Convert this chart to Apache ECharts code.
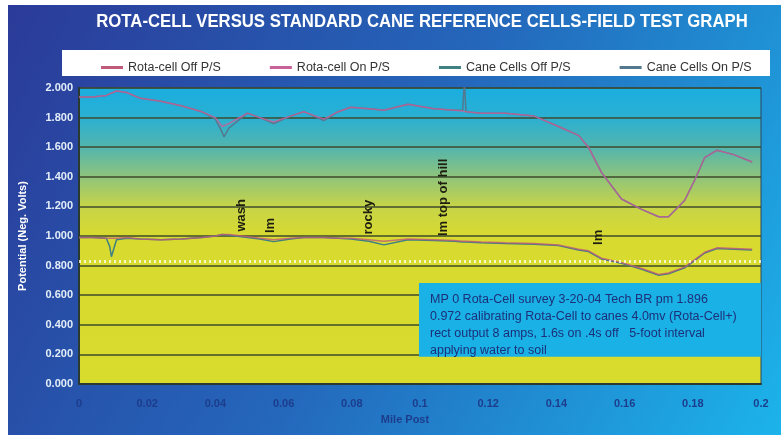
<!DOCTYPE html>
<html>
<head>
<meta charset="utf-8">
<script src="https://cdn.jsdelivr.net/npm/echarts@6/dist/echarts.min.js"></script>
<style>
  html, body { margin: 0; padding: 0; background: #ffffff; }
  #plot { width: 781px; height: 435px; }
</style>
</head>
<body>
<div id="plot"></div>
<script>
// mile post readings (shared by all four traces)
var miles = [0, 0.004, 0.008, 0.009, 0.0095, 0.011, 0.014, 0.018, 0.024, 0.03, 0.036, 0.04, 0.042, 0.0425, 0.044,
  0.0494, 0.053, 0.0571, 0.062, 0.0659, 0.0718, 0.076, 0.0797, 0.085, 0.0894, 0.0965, 0.1041, 0.11, 0.1125, 0.113,
  0.1135, 0.118, 0.125, 0.1335, 0.1406, 0.1465, 0.1494, 0.1532, 0.1591, 0.165, 0.17, 0.1729, 0.1776, 0.1806, 0.1835,
  0.1871, 0.192, 0.1974];

var rotaOff = [0.99, 0.99, 0.985, 0.985, 0.985, 0.985, 0.99, 0.98, 0.975, 0.98, 0.99, 1.0, 1.01, 1.01, 1.01,
  0.995, 0.985, 0.975, 0.985, 0.99, 0.99, 0.985, 0.985, 0.975, 0.965, 0.98, 0.975, 0.97, 0.965, 0.965,
  0.965, 0.96, 0.955, 0.95, 0.94, 0.91, 0.9, 0.85, 0.82, 0.78, 0.74, 0.75, 0.79, 0.84, 0.89,
  0.92, 0.915, 0.91];
var rotaOn = [1.94, 1.94, 1.95, 1.96, 1.965, 1.98, 1.97, 1.93, 1.91, 1.88, 1.84, 1.8, 1.74, 1.73, 1.76,
  1.83, 1.8, 1.77, 1.81, 1.84, 1.79, 1.84, 1.87, 1.86, 1.85, 1.89, 1.86, 1.85, 1.845, 1.845,
  1.84, 1.83, 1.83, 1.81, 1.74, 1.68, 1.6, 1.43, 1.25, 1.18, 1.13, 1.13, 1.24, 1.38, 1.53,
  1.58, 1.55, 1.5];
var caneOff = [0.99, 0.99, 0.985, 0.93, 0.86, 0.975, 0.985, 0.98, 0.975, 0.98, 0.99, 1.0, 1.01, 1.01, 1.005,
  0.99, 0.98, 0.962, 0.98, 0.99, 0.99, 0.985, 0.98, 0.965, 0.94, 0.975, 0.97, 0.965, 0.96, 0.96,
  0.96, 0.955, 0.95, 0.945, 0.935, 0.905, 0.895, 0.845, 0.815, 0.775, 0.735, 0.745, 0.785, 0.835, 0.885,
  0.915, 0.91, 0.905];
var caneOn = [1.94, 1.94, 1.95, 1.96, 1.965, 1.98, 1.97, 1.93, 1.91, 1.88, 1.84, 1.79, 1.7, 1.67, 1.73,
  1.83, 1.8, 1.76, 1.81, 1.84, 1.78, 1.84, 1.87, 1.86, 1.85, 1.89, 1.86, 1.85, 1.85, 2.04,
  1.84, 1.83, 1.83, 1.81, 1.74, 1.68, 1.6, 1.43, 1.25, 1.18, 1.13, 1.13, 1.24, 1.38, 1.53,
  1.58, 1.55, 1.5];

var seriesNames = ['Rota-cell Off P/S', 'Rota-cell On P/S', 'Cane Cells Off P/S', 'Cane Cells On P/S'];
var seriesColors = ['#c05a78', '#c8609a', '#3f8082', '#54788e'];

// field notes written along the lower trace
var noteText = ['wash', 'lm', 'rocky', 'lm top of hill', 'lm'];
var noteMile = [0.0476, 0.0562, 0.085, 0.1068, 0.1524];
var noteValue = [1.03, 1.02, 1.01, 1.0, 0.94];

var boxLines = [
  'MP 0 Rota-Cell survey 3-20-04 Tech BR pm 1.896',
  '0.972 calibrating Rota-Cell to canes 4.0mv (Rota-Cell+)',
  'rect output 8 amps, 1.6s on .4s off   5-foot interval',
  'applying water to soil'
];

var chartTitle = 'ROTA-CELL VERSUS STANDARD CANE REFERENCE CELLS-FIELD TEST GRAPH';

function pairs(vals) {
  return miles.map(function (m, i) { return [m, vals[i]]; });
}

var myChart = echarts.init(document.getElementById('plot'));
var sans = '"Liberation Sans", Arial, sans-serif';

var option = {
  animation: false,
  backgroundColor: '#ffffff',
  legend: {
    data: seriesNames,
    left: 96,
    top: 56,
    itemGap: 49,
    itemWidth: 22,
    itemHeight: 3,
    icon: 'rect',
    textStyle: { color: '#333333', fontFamily: sans, fontSize: 12.5 }
  },
  grid: {
    left: 79, right: 20, top: 88, bottom: 51,
    show: true,
    borderWidth: 1,
    borderColor: '#2c4660',
    backgroundColor: new echarts.graphic.LinearGradient(0, 0, 0, 1, [
      { offset: 0, color: '#1aaee0' },
      { offset: 0.1, color: '#2ab0d2' },
      { offset: 0.2, color: '#52b5ae' },
      { offset: 0.3, color: '#8ec47c' },
      { offset: 0.4, color: '#c6d448' },
      { offset: 0.5, color: '#d8da30' },
      { offset: 1, color: '#d8dc2c' }
    ])
  },
  xAxis: {
    type: 'value',
    min: 0, max: 0.2, interval: 0.02,
    name: 'Mile Post',
    nameLocation: 'middle',
    nameGap: 30,
    nameTextStyle: { color: '#1d3d8c', fontFamily: sans, fontWeight: 'bold', fontSize: 11, padding: [0, 30, 0, 0] },
    axisLine: { show: true, lineStyle: { color: '#2a3a30', width: 2 } },
    axisTick: { show: false },
    splitLine: { show: false },
    axisLabel: {
      margin: 14, color: '#1d3d8c', fontWeight: 'bold', fontSize: 11, fontFamily: sans,
      formatter: function (v) { return v === 0 ? '0' : String(+v.toFixed(2)); }
    }
  },
  yAxis: {
    type: 'value',
    min: 0, max: 2, interval: 0.2,
    name: 'Potential (Neg. Volts)',
    nameLocation: 'middle',
    nameGap: 51,
    nameTextStyle: { color: '#ffffff', fontFamily: sans, fontWeight: 'bold', fontSize: 11 },
    axisLine: { show: true, lineStyle: { color: '#2a3a30', width: 2 } },
    axisTick: { show: false },
    splitLine: { lineStyle: { color: '#3e4b2c', width: 1.5 } },
    axisLabel: {
      margin: 6, color: '#e4eef8', fontWeight: 'bold', fontSize: 11, fontFamily: sans,
      formatter: function (v) { return v.toFixed(3); }
    }
  },
  series: [
    {
      name: seriesNames[2], type: 'line', data: pairs(caneOff), showSymbol: false, z: 2,
      lineStyle: { color: seriesColors[2], width: 1.5 }, itemStyle: { color: seriesColors[2] },
      markLine: {
        silent: true, symbol: 'none', label: { show: false },
        lineStyle: { color: 'rgba(255,255,255,0.75)', type: [2, 3], width: 3 },
        data: [{ yAxis: 0.83 }]
      },
      markArea: {
        silent: true,
        itemStyle: { color: '#1ab2e6' },
        label: {
          show: true, position: 'insideTopLeft',
          padding: [3, 0, 0, 6],
          color: '#1c2f78', fontFamily: sans, fontSize: 12.5, lineHeight: 17
        },
        data: [[{ name: boxLines.join('\n'), coord: [0.0997, 0.683] }, { coord: [0.2, 0.184] }]]
      }
    },
    {
      name: seriesNames[3], type: 'line', data: pairs(caneOn), showSymbol: false, z: 2,
      lineStyle: { color: seriesColors[3], width: 1.5 }, itemStyle: { color: seriesColors[3] }
    },
    {
      name: seriesNames[0], type: 'line', data: pairs(rotaOff), showSymbol: false, z: 3,
      lineStyle: { color: seriesColors[0], width: 1.5, opacity: 0.8 }, itemStyle: { color: seriesColors[0] }
    },
    {
      name: seriesNames[1], type: 'line', data: pairs(rotaOn), showSymbol: false, z: 3,
      lineStyle: { color: seriesColors[1], width: 1.5, opacity: 0.8 }, itemStyle: { color: seriesColors[1] }
    }
  ],
  graphic: [
    {
      type: 'rect', z: -10, silent: true,
      shape: { x: 8, y: 5, width: 773, height: 430 },
      style: {
        fill: new echarts.graphic.LinearGradient(0, 0, 1, 1, [
          { offset: 0, color: '#2b3a98' },
          { offset: 0.5, color: '#2468bc' },
          { offset: 1, color: '#1cb4ea' }
        ])
      }
    },
    {
      type: 'rect', z: -5, silent: true,
      shape: { x: 62, y: 50, width: 708, height: 26 },
      style: { fill: '#ffffff' }
    },
    {
      // condensed look of the original heading
      type: 'text', x: 422, y: 22, scaleX: 0.88, z: 10, silent: true,
      style: {
        text: chartTitle, fill: '#ffffff', font: 'bold 19px ' + sans,
        align: 'center', verticalAlign: 'middle'
      }
    }
  ]
};

myChart.setOption(option);

// rotated field notes placed with the chart's own scales
var notes = noteText.map(function (t, i) {
  var p = myChart.convertToPixel({ gridIndex: 0 }, [noteMile[i], noteValue[i]]);
  return {
    type: 'text', x: p[0], y: p[1], rotation: Math.PI / 2, z: 20, silent: true,
    style: {
      text: t, fill: '#1e1e10', font: 'bold 13px ' + sans,
      align: 'left', verticalAlign: 'middle'
    }
  };
});
myChart.setOption({ graphic: option.graphic.concat(notes) });

window.onresize = function () { myChart.resize(); };
</script>
</body>
</html>
